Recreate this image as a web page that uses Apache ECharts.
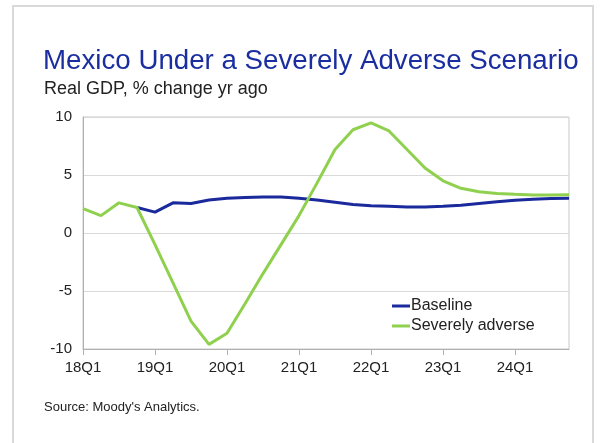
<!DOCTYPE html>
<html>
<head>
<meta charset="utf-8">
<script src="https://cdn.jsdelivr.net/npm/echarts@6/dist/echarts.min.js"></script>
<style>
html,body{margin:0;padding:0;background:#fff;}
#c{width:604px;height:443px;}
</style>
</head>
<body>
<div id="c"></div>
<script>
const quarters = ['18Q1','18Q2','18Q3','18Q4','19Q1','19Q2','19Q3','19Q4','20Q1','20Q2','20Q3','20Q4','21Q1','21Q2','21Q3','21Q4','22Q1','22Q2','22Q3','22Q4','23Q1','23Q2','23Q3','23Q4','24Q1','24Q2','24Q3','24Q4'];
const baseline = [null,null,null,2.2,1.8,2.6,2.55,2.85,3.0,3.05,3.1,3.1,3.0,2.85,2.65,2.45,2.35,2.3,2.25,2.25,2.3,2.4,2.55,2.7,2.83,2.92,2.98,3.0];
const severe = [2.1,1.5,2.6,2.2,-1.0,-4.3,-7.6,-9.6,-8.65,-6.1,-3.5,-1.0,1.5,4.3,7.2,8.9,9.5,8.8,7.2,5.6,4.5,3.85,3.55,3.4,3.33,3.28,3.28,3.3];
const yTicks = [-10,-5,0,5,10];

const chart = echarts.init(document.getElementById('c'));
const font = '"Liberation Sans", Arial, sans-serif';
chart.setOption({
  animation:false,
  backgroundColor:'#fff',
  graphic:[{type:'rect',shape:{x:13,y:6,width:580,height:470},style:{fill:'none',stroke:'#d9d9d9',lineWidth:2},silent:true}],
  title:[
    {text:'Mexico Under a Severely Adverse Scenario',left:43,top:47,padding:0,textStyle:{fontFamily:font,fontSize:27.7,fontWeight:'normal',color:'#1a2ea0'}},
    {text:'Real GDP, % change yr ago',left:44,top:80,padding:0,textStyle:{fontFamily:font,fontSize:18,fontWeight:'normal',color:'#222'}},
    {text:"Source: Moody's Analytics.",left:44,top:401,padding:0,textStyle:{fontFamily:font,fontSize:13,fontWeight:'normal',color:'#222'}}
  ],
  grid:{left:83,right:35,top:117,bottom:94,show:true,borderColor:'#c8c8c8',borderWidth:1},
  legend:{
    left:392,top:298,orient:'vertical',itemWidth:18,itemHeight:3,itemGap:4,padding:0,
    icon:'rect',
    textStyle:{fontFamily:font,fontSize:16,color:'#222',padding:[0,0,0,-4]},
    data:['Baseline','Severely adverse']
  },
  xAxis:{
    type:'category',data:quarters,boundaryGap:false,
    axisLine:{onZero:false,lineStyle:{color:'#b0b0b0'}},
    axisTick:{show:true,length:6,interval:(i)=>i%4===0,lineStyle:{color:'#b0b0b0'}},
    axisLabel:{interval:(i)=>i%4===0,fontFamily:font,fontSize:15,color:'#222',margin:11},
    splitLine:{show:false}
  },
  yAxis:{
    type:'value',min:yTicks[0],max:yTicks[yTicks.length-1],interval:5,
    axisLine:{show:true,lineStyle:{color:'#b0b0b0'}},
    axisTick:{show:false},
    axisLabel:{fontFamily:font,fontSize:15,color:'#222',margin:11},
    splitLine:{lineStyle:{color:'#d9d9d9'}}
  },
  series:[
    {name:'Baseline',type:'line',data:baseline,symbol:'none',lineStyle:{width:3,color:'#1a2a9c'},itemStyle:{color:'#1a2a9c'},z:2},
    {name:'Severely adverse',type:'line',data:severe,symbol:'none',lineStyle:{width:3,color:'#8fd14f'},itemStyle:{color:'#8fd14f'},z:3}
  ]
});
</script>
</body>
</html>
